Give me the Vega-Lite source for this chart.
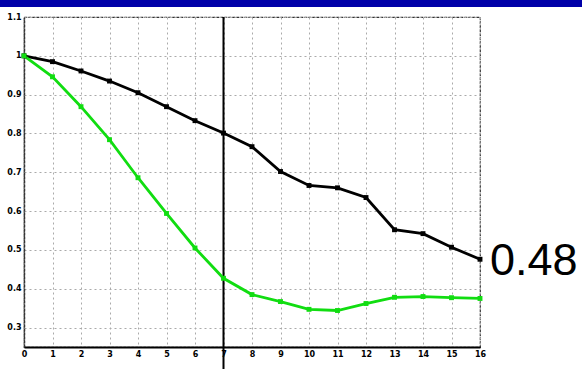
{
  "$schema": "https://vega.github.io/schema/vega-lite/v6.json",
  "width": 456,
  "height": 330,
  "autosize": {"type": "none"},
  "padding": {"left": 24, "top": 17, "right": 102, "bottom": 22},
  "background": "white",
  "config": {
    "view": {"stroke": "#333333", "strokeDash": [3, 1], "strokeWidth": 1.2},
    "axis": {
      "labelFont": "DejaVu Sans",
      "labelFontWeight": "bold",
      "labelFontSize": 8,
      "labelColor": "#000000",
      "gridColor": "#aaaaaa",
      "gridDash": [2, 3],
      "gridWidth": 1,
      "ticks": false,
      "title": null,
      "labelOverlap": false
    }
  },
  "datasets": {
    "series": [
      {"s": "black", "x": 0, "y": 1.0}, {"s": "black", "x": 1, "y": 0.985}, {"s": "black", "x": 2, "y": 0.961},
      {"s": "black", "x": 3, "y": 0.935}, {"s": "black", "x": 4, "y": 0.905}, {"s": "black", "x": 5, "y": 0.869},
      {"s": "black", "x": 6, "y": 0.833}, {"s": "black", "x": 7, "y": 0.801}, {"s": "black", "x": 8, "y": 0.766},
      {"s": "black", "x": 9, "y": 0.702}, {"s": "black", "x": 10, "y": 0.666}, {"s": "black", "x": 11, "y": 0.66},
      {"s": "black", "x": 12, "y": 0.635}, {"s": "black", "x": 13, "y": 0.552}, {"s": "black", "x": 14, "y": 0.542},
      {"s": "black", "x": 15, "y": 0.507}, {"s": "black", "x": 16, "y": 0.476},
      {"s": "green", "x": 0, "y": 1.0}, {"s": "green", "x": 1, "y": 0.946}, {"s": "green", "x": 2, "y": 0.869},
      {"s": "green", "x": 3, "y": 0.784}, {"s": "green", "x": 4, "y": 0.686}, {"s": "green", "x": 5, "y": 0.594},
      {"s": "green", "x": 6, "y": 0.505}, {"s": "green", "x": 7, "y": 0.427}, {"s": "green", "x": 8, "y": 0.385},
      {"s": "green", "x": 9, "y": 0.367}, {"s": "green", "x": 10, "y": 0.347}, {"s": "green", "x": 11, "y": 0.344},
      {"s": "green", "x": 12, "y": 0.362}, {"s": "green", "x": 13, "y": 0.378}, {"s": "green", "x": 14, "y": 0.38},
      {"s": "green", "x": 15, "y": 0.377}, {"s": "green", "x": 16, "y": 0.375}
    ]
  },
  "encoding": {
    "x": {"field": "x", "type": "quantitative", "scale": {"domain": [0, 16], "nice": false, "zero": false},
          "axis": {"values": [0,1,2,3,4,5,6,7,8,9,10,11,12,13,14,15,16], "labelAngle": 0, "labelOverlap": false, "labelSeparation": 0, "domainColor": "#000000", "domainWidth": 2, "labelPadding": 3, "labelFlush": false}},
    "y": {"field": "y", "type": "quantitative", "scale": {"domain": [0.25, 1.1], "nice": false, "zero": false},
          "axis": {"values": [0.3, 0.4, 0.5, 0.6, 0.7, 0.8, 0.9, 1, 1.1], "format": "~g", "labelOverlap": false, "domainColor": "#333333", "domainDash": [3, 1], "domainWidth": 1.5, "labelPadding": 3, "labelFlush": false}}
  },
  "layer": [
    {
      "data": {"values": [{"x": -0.9, "x2": 19.8, "y": 1.126, "y2": 1.16}]},
      "mark": {"type": "rect", "color": "#0000a8", "clip": false},
      "encoding": {
        "x2": {"field": "x2"},
        "y2": {"field": "y2"}
      }
    },
    {
      "data": {"values": [{"x": 7, "y": 1.1, "y2": 0.19}]},
      "mark": {"type": "rule", "color": "#000000", "strokeWidth": 2, "clip": false},
      "encoding": {
        "y2": {"field": "y2"}
      }
    },
    {
      "data": {"name": "series"},
      "mark": {"type": "line", "strokeWidth": 2.8, "point": {"shape": "square", "size": 24, "filled": true}},
      "encoding": {
        "color": {"field": "s", "type": "nominal", "scale": {"domain": ["black", "green"], "range": ["#000000", "#11dd11"]}, "legend": null}
      }
    },
    {
      "data": {"values": [{"x": 16, "y": 0.476, "t": "0.48"}]},
      "mark": {"type": "text", "align": "left", "baseline": "middle", "dx": 10, "dy": 2, "font": "Liberation Sans", "fontSize": 45, "color": "#000000", "clip": false},
      "encoding": {
        "text": {"field": "t"}
      }
    }
  ]
}
